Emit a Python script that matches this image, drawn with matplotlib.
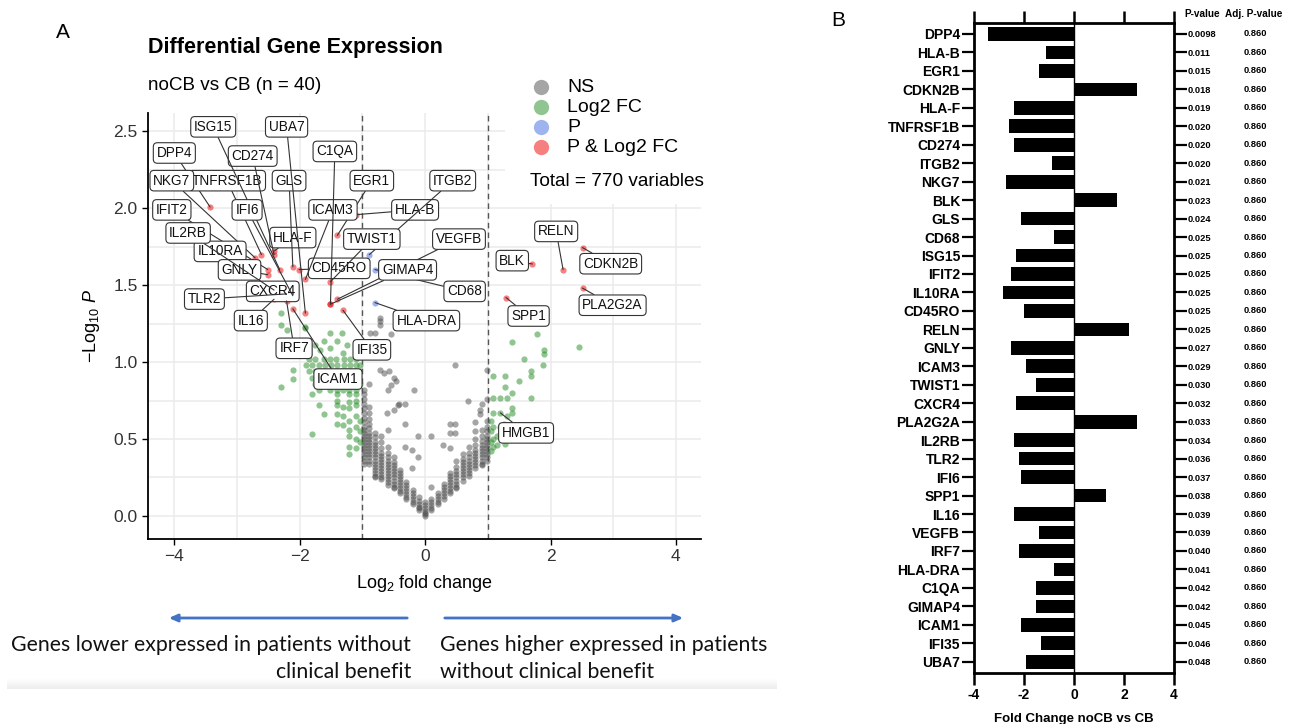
import numpy as np
import matplotlib.pyplot as plt
from matplotlib.patches import Rectangle

plt.rcParams.update({
    "font.family": ["Liberation Sans", "DejaVu Sans"],
    "mathtext.fontset": "custom",
    "mathtext.rm": "Liberation Sans",
    "mathtext.it": "Liberation Sans:italic",
})

# ---- data: genes with p < 0.05 (panel B, also labelled in panel A) ----
genes = ["DPP4", "HLA-B", "EGR1", "CDKN2B", "HLA-F", "TNFRSF1B", "CD274", "ITGB2",
         "NKG7", "BLK", "GLS", "CD68", "ISG15", "IFIT2", "IL10RA", "CD45RO", "RELN",
         "GNLY", "ICAM3", "TWIST1", "CXCR4", "PLA2G2A", "IL2RB", "TLR2", "IFI6", "SPP1",
         "IL16", "VEGFB", "IRF7", "HLA-DRA", "C1QA", "GIMAP4", "ICAM1", "IFI35", "UBA7"]
fold_change = [-3.43, -1.11, -1.40, 2.51, -2.41, -2.61, -2.41, -0.89,
               -2.71, 1.71, -2.11, -0.80, -2.32, -2.51, -2.83, -2.01, 2.20,
               -2.51, -1.91, -1.51, -2.31, 2.51, -2.41, -2.21, -2.11, 1.29,
               -2.41, -1.40, -2.21, -0.80, -1.51, -1.51, -2.11, -1.31, -1.91]
p_value = ["0.0098", "0.011", "0.015", "0.018", "0.019", "0.020", "0.020", "0.020",
           "0.021", "0.023", "0.024", "0.025", "0.025", "0.025", "0.025", "0.025", "0.025",
           "0.027", "0.029", "0.030", "0.032", "0.033", "0.034", "0.036", "0.037", "0.038",
           "0.039", "0.039", "0.040", "0.041", "0.042", "0.042", "0.045", "0.046", "0.048"]
adj_p_value = ["0.860"] * len(genes)

# extra labelled, non significant gene
hmgb1_fc, hmgb1_logp = 1.20, 0.67

# non significant genes (grey), read column by column from the V shape
ns_col_x = [-0.98, -0.90, -0.80, -0.70, -0.60, -0.50, -0.40, -0.30, -0.20, -0.10, 0.00,
            0.10, 0.20, 0.30, 0.40, 0.50, 0.60, 0.70, 0.80, 0.90, 0.98]
ns_col_y = [
    [0.82, 0.79, 0.76, 0.73, 0.70, 0.67, 0.64, 0.61, 0.58, 0.56, 0.54, 0.52, 0.50, 0.48, 0.46, 0.44, 0.42, 0.40, 0.38, 0.36, 0.34],
    [0.86, 0.71, 0.67, 0.63, 0.60, 0.57, 0.54, 0.52, 0.50, 0.48, 0.46, 0.44, 0.42, 0.40, 0.38, 0.36, 0.34],
    [0.54, 0.51, 0.48, 0.46, 0.44, 0.42, 0.40, 0.38, 0.36, 0.34, 0.32, 0.30, 0.28, 0.26, 0.25],
    [0.52, 0.48, 0.44, 0.41, 0.39, 0.37, 0.35, 0.33, 0.31, 0.29, 0.27, 0.25, 0.24],
    [0.56, 0.45, 0.41, 0.38, 0.36, 0.34, 0.32, 0.30, 0.28, 0.26, 0.24, 0.22, 0.20],
    [0.38, 0.35, 0.33, 0.31, 0.29, 0.27, 0.25, 0.23, 0.21, 0.19, 0.18],
    [0.30, 0.28, 0.26, 0.24, 0.22, 0.20, 0.18, 0.16, 0.15],
    [0.22, 0.20, 0.18, 0.16, 0.14, 0.12, 0.11],
    [0.17, 0.15, 0.13, 0.11, 0.09, 0.08],
    [0.12, 0.10, 0.08, 0.06, 0.05, 0.04],
    [0.09, 0.07, 0.05, 0.03, 0.02, 0.01, 0.00],
    [0.11, 0.09, 0.07, 0.05, 0.04],
    [0.15, 0.13, 0.11, 0.09, 0.08],
    [0.21, 0.19, 0.17, 0.15, 0.13, 0.11],
    [0.28, 0.26, 0.24, 0.22, 0.20, 0.18, 0.16, 0.15],
    [0.36, 0.32, 0.29, 0.27, 0.25, 0.23, 0.21, 0.19, 0.18],
    [0.40, 0.37, 0.35, 0.33, 0.31, 0.29, 0.27, 0.25, 0.23],
    [0.45, 0.41, 0.38, 0.36, 0.34, 0.32, 0.30, 0.28, 0.26],
    [0.55, 0.50, 0.46, 0.43, 0.41, 0.39, 0.37, 0.35, 0.33, 0.31],
    [0.56, 0.52, 0.49, 0.46, 0.44, 0.42, 0.40, 0.38, 0.36, 0.34, 0.33],
    [0.95, 0.76, 0.62, 0.58, 0.55, 0.52, 0.50, 0.48, 0.46, 0.44, 0.42, 0.40, 0.38, 0.36],
]
# scattered grey points above the V
ns_extra_x = [-0.72, -0.72, -0.72, -0.88, -0.80, -0.55, -0.72, -0.65, -0.58, -0.50, -0.46,
              -0.60, -0.55, -0.18, -0.44, -0.42, -0.32, -0.61, -0.50, -0.32, -0.12, 0.10,
              -0.32, -0.21, -0.12, -0.21, 0.10, 0.29, 0.40, 0.39, 0.48, 0.40, 0.48, 0.79,
              0.88, 0.88, 0.69, 0.90, 0.48]
ns_extra_y = [1.29, 1.27, 1.24, 1.19, 1.19, 1.18, 0.95, 0.93, 0.94, 0.90, 0.88,
              0.82, 0.85, 0.82, 0.72, 0.73, 0.73, 0.67, 0.69, 0.60, 0.52, 0.52,
              0.45, 0.43, 0.38, 0.31, 0.19, 0.46, 0.44, 0.60, 0.60, 0.54, 0.54, 0.61,
              0.69, 0.66, 0.75, 0.73, 0.98]

# |log2 FC| > 1 but p > 0.05 (green)
fc_only_points = [
    (-2.30, 1.32), (-2.30, 1.24), (-2.21, 1.21), (-1.91, 1.23), (-1.92, 1.22), (-1.52, 1.19),
    (-1.33, 1.19), (-1.62, 1.14), (-1.41, 1.14), (-1.75, 1.11), (-1.52, 1.09), (-1.24, 1.11),
    (-1.67, 1.08), (-1.31, 1.06), (-1.92, 1.06), (-2.10, 0.95), (-2.10, 0.89), (-2.30, 0.84),
    (-1.85, 1.02), (-1.75, 1.02), (-1.62, 1.02), (-1.52, 1.02), (-1.42, 1.02), (-1.30, 1.02),
    (-1.20, 1.02), (-1.10, 1.02),
    (-1.90, 0.98), (-1.80, 0.98), (-1.70, 0.98), (-1.60, 0.98), (-1.50, 0.98), (-1.40, 0.98),
    (-1.30, 0.98), (-1.20, 0.98), (-1.10, 0.98), (-1.04, 0.98),
    (-1.85, 0.94), (-1.75, 0.94), (-1.62, 0.94), (-1.52, 0.94), (-1.42, 0.94), (-1.33, 0.94),
    (-1.24, 0.94), (-1.12, 0.94), (-1.05, 0.94),
    (-1.80, 0.90), (-1.70, 0.90), (-1.60, 0.90), (-1.50, 0.90), (-1.40, 0.90), (-1.30, 0.90),
    (-1.20, 0.90), (-1.10, 0.90),
    (-1.75, 0.86), (-1.62, 0.86), (-1.52, 0.86), (-1.42, 0.86), (-1.31, 0.86), (-1.21, 0.86),
    (-1.10, 0.86), (-1.04, 0.86),
    (-1.70, 0.82), (-1.52, 0.82), (-1.41, 0.82), (-1.31, 0.82), (-1.21, 0.82), (-1.10, 0.82),
    (-1.81, 0.79), (-1.41, 0.79), (-1.21, 0.79), (-1.10, 0.79),
    (-1.70, 0.72), (-1.61, 0.66), (-1.81, 0.53), (-1.41, 0.75), (-1.41, 0.72), (-1.41, 0.66),
    (-1.41, 0.60), (-1.31, 0.71), (-1.31, 0.65), (-1.31, 0.59), (-1.21, 0.74), (-1.21, 0.70),
    (-1.21, 0.62), (-1.21, 0.56), (-1.21, 0.52), (-1.21, 0.45), (-1.21, 0.40), (-1.10, 0.75),
    (-1.10, 0.72), (-1.10, 0.65), (-1.10, 0.58), (-1.10, 0.50), (-1.10, 0.44), (-1.04, 0.62),
    (-1.04, 0.55), (-1.04, 0.48),
    (1.78, 1.18), (1.38, 1.13), (1.89, 1.08), (1.89, 1.05), (1.57, 1.02), (1.88, 0.98),
    (1.69, 0.94), (1.69, 0.91), (1.09, 0.91), (1.28, 0.91), (1.28, 0.84), (1.49, 0.88),
    (1.38, 0.80), (1.09, 0.77), (1.19, 0.77), (1.30, 0.77), (1.69, 0.77), (1.38, 0.70),
    (1.09, 0.67), (1.30, 0.65), (1.38, 0.67), (1.09, 0.58), (1.20, 0.58),
    (1.09, 0.50), (1.28, 0.51), (1.28, 0.47), (1.09, 0.45), (2.45, 1.10), (1.05, 0.62),
    (1.05, 0.55), (1.05, 0.48), (1.05, 0.42), (1.15, 0.52), (1.15, 0.46), (1.25, 0.60),
]

# label box centres (data units of panel A)
label_xy = {
    "ISG15": (-3.38, 2.53), "UBA7": (-2.21, 2.53), "DPP4": (-4.00, 2.36), "CD274": (-2.75, 2.34),
    "C1QA": (-1.44, 2.37), "NKG7": (-4.04, 2.18), "TNFRSF1B": (-3.16, 2.18), "GLS": (-2.17, 2.18),
    "EGR1": (-0.85, 2.18), "ITGB2": (0.44, 2.18), "IFIT2": (-4.04, 1.99), "IFI6": (-2.84, 1.99),
    "ICAM3": (-1.47, 1.99), "HLA-B": (-0.16, 1.99), "IL2RB": (-3.78, 1.84), "HLA-F": (-2.11, 1.81),
    "TWIST1": (-0.85, 1.80), "VEGFB": (0.54, 1.80), "IL10RA": (-3.27, 1.72), "CD45RO": (-1.37, 1.61),
    "GIMAP4": (-0.28, 1.60), "GNLY": (-2.96, 1.60), "CXCR4": (-2.43, 1.46), "CD68": (0.63, 1.46),
    "TLR2": (-3.52, 1.41), "IL16": (-2.78, 1.27), "HLA-DRA": (0.02, 1.27), "IRF7": (-2.09, 1.09),
    "IFI35": (-0.85, 1.08), "ICAM1": (-1.39, 0.89), "RELN": (2.09, 1.85), "BLK": (1.39, 1.66),
    "CDKN2B": (2.96, 1.64), "SPP1": (1.65, 1.30), "PLA2G2A": (2.99, 1.37), "HMGB1": (1.61, 0.54),
}

col_ns, col_fc, col_p, col_both = "#4d4d4d", "#228B22", "#4169E1", "#EE0000"

W, H = 1289, 724
fig = plt.figure(figsize=(W / 100, H / 100), dpi=100)


def px_box(l, t, r, b):
    return [l / W, 1 - b / H, (r - l) / W, (b - t) / H]


# ================= panel A : volcano =================
ax = fig.add_axes(px_box(148, 113, 701, 539))
ax.set_xlim(-4.42, 4.40)
ax.set_ylim(-0.15, 2.62)
ax.set_xticks([-4, -2, 0, 2, 4])
ax.set_xticks([-3, -1, 1, 3], minor=True)
ax.set_yticks([0, 0.5, 1.0, 1.5, 2.0, 2.5])
ax.set_yticks([0.25, 0.75, 1.25, 1.75, 2.25], minor=True)
ax.yaxis.set_major_formatter(plt.FormatStrFormatter("%.1f"))
ax.grid(True, which="both", color="#ebebeb", lw=1.1)
ax.set_axisbelow(True)
ax.tick_params(which="minor", length=0)
ax.tick_params(which="major", length=4, width=1, labelsize=12.5, labelcolor="#333333")
for s in ["top", "right"]:
    ax.spines[s].set_visible(False)
for s in ["left", "bottom"]:
    ax.spines[s].set_linewidth(1.3)

# white area behind the legend
ax.add_patch(Rectangle((0.6456, 0.787), 0.36, 0.22, transform=ax.transAxes,
                       fc="white", ec="none", zorder=0.8))

ax.axvline(-1, color="#555555", ls=(0, (4, 3)), lw=1)
ax.axvline(1, color="#555555", ls=(0, (4, 3)), lw=1)

ns_x = [x for x, ys in zip(ns_col_x, ns_col_y) for _ in ys] + ns_extra_x
ns_y = [y for ys in ns_col_y for y in ys] + ns_extra_y
ax.scatter(ns_x, ns_y, s=20, color=col_ns, alpha=0.5, lw=0, zorder=2)

fc_pts = np.array(fc_only_points + [(hmgb1_fc, hmgb1_logp)])
ax.scatter(fc_pts[:, 0], fc_pts[:, 1], s=20, color=col_fc, alpha=0.5, lw=0, zorder=2)

fc_arr = np.array(fold_change)
logp = -np.log10(np.array([float(p) for p in p_value]))
big = np.abs(fc_arr) > 1
ax.scatter(fc_arr[~big], logp[~big], s=20, color=col_p, alpha=0.5, lw=0, zorder=3)
ax.scatter(fc_arr[big], logp[big], s=20, color=col_both, alpha=0.5, lw=0, zorder=3)

label_pts = list(zip(genes, fc_arr, logp)) + [("HMGB1", hmgb1_fc, hmgb1_logp)]
for g, x, y in label_pts:
    ax.annotate(g, xy=(x, y), xytext=label_xy[g], textcoords="data",
                ha="center", va="center", fontsize=9.8, color="#111111", zorder=5,
                bbox=dict(boxstyle="round,pad=0.24,rounding_size=0.3", fc="white",
                          ec="#333333", lw=0.8),
                arrowprops=dict(arrowstyle="-", color="#333333", lw=0.8,
                                shrinkA=0, shrinkB=0),
                annotation_clip=False)

ax.set_xlabel("Log$_2$ fold change", fontsize=13, labelpad=6)
ax.set_ylabel(r"$-$Log$_{10}$ $\it{P}$", fontsize=13, labelpad=8)

fig.text(148 / W, 1 - 47 / H, "Differential Gene Expression", fontsize=15.5,
         weight="bold", va="center", ha="left")
fig.text(148 / W, 1 - 85 / H, "noCB vs CB (n = 40)", fontsize=13.6, va="center", ha="left")

# legend drawn by hand
legend_items = [("NS", col_ns), ("Log2 FC", col_fc), ("P", col_p), ("P & Log2 FC", col_both)]
for i, (name, c) in enumerate(legend_items):
    yy = 1 - (87 + 20 * i) / H
    fig.add_artist(plt.Line2D([541 / W], [yy], marker="o", ms=11, color=c, alpha=0.5,
                              mec="none", transform=fig.transFigure))
    fig.text(567 / W, yy, name, fontsize=14, va="center", ha="left")
fig.text(530 / W, 1 - 181 / H, "Total = 770 variables", fontsize=13.7, va="center", ha="left")

fig.text(63 / W, 1 - 33 / H, "A", fontsize=15, va="center", ha="center")
fig.text(838 / W, 1 - 20 / H, "B", fontsize=15, va="center", ha="center")

# direction arrows and captions
arrow_style = dict(arrowstyle="-|>,head_length=0.5,head_width=0.22", color="#4472C4", lw=2)
fig.add_artist(plt.Annotation("", xy=(166 / W, 1 - 618 / H), xytext=(410 / W, 1 - 618 / H),
                              xycoords="figure fraction", arrowprops=arrow_style))
fig.add_artist(plt.Annotation("", xy=(686 / W, 1 - 618 / H), xytext=(442 / W, 1 - 618 / H),
                              xycoords="figure fraction", arrowprops=arrow_style))
cap = dict(fontsize=15.3, family=["Lato", "DejaVu Sans"], va="center", color="#111111")
fig.text(411 / W, 1 - 645 / H, "Genes lower expressed in patients without", ha="right", **cap)
fig.text(411 / W, 1 - 672 / H, "clinical benefit", ha="right", **cap)
fig.text(440 / W, 1 - 645 / H, "Genes higher expressed in patients", ha="left", **cap)
fig.text(440 / W, 1 - 672 / H, "without clinical benefit", ha="left", **cap)

# faint grey band under panel A (screenshot edge)
band = fig.add_axes(px_box(7, 678, 776, 689))
band.imshow(np.linspace(1.0, 0.93, 20).reshape(-1, 1), cmap="gray", vmin=0, vmax=1,
            aspect="auto")
band.axis("off")

# ================= panel B : fold change bars =================
n = len(genes)
axb = fig.add_axes(px_box(974, 22.7, 1174, 673))
axb.barh(range(n), fold_change, height=0.74, color="black")
axb.axvline(0, color="black", lw=1)
axb.set_xlim(-4, 4)
axb.set_ylim(n - 0.39, -0.61)
axb.set_xticks([-4, -2, 0, 2, 4])
axb.set_xticklabels(["-4", "-2", "0", "2", "4"], weight="bold", fontsize=10)
axb.set_yticks(range(n))
axb.set_yticklabels(genes, weight="bold", fontsize=10)
axb.tick_params(axis="x", top=True, bottom=True, direction="out", length=8.5, width=1.8, pad=2)
axb.tick_params(axis="y", left=True, direction="out", length=9, width=1.6, pad=1)
for s in axb.spines.values():
    s.set_linewidth(2)
axb.set_xlabel("Fold Change noCB vs CB", weight="bold", fontsize=9.5, labelpad=8)

# p-values on the right side
ax2 = axb.twinx()
ax2.set_ylim(axb.get_ylim())
ax2.set_yticks(range(n))
ax2.set_yticklabels(p_value, weight="bold", fontsize=6.7)
ax2.tick_params(axis="y", direction="out", length=9, width=1.6, pad=0.5)
for s in ax2.spines.values():
    s.set_visible(False)
for i, v in enumerate(adj_p_value):
    ax2.annotate(v, xy=(1255 / W, i), xycoords=("figure fraction", "data"),
                 ha="center", va="center", fontsize=6.7, weight="bold", annotation_clip=False)

fig.text(1202 / W, 1 - 14 / H, "P-value", fontsize=7.2, weight="bold", ha="center", va="center")
fig.text(1254 / W, 1 - 14 / H, "Adj. P-value", fontsize=7.2, weight="bold", ha="center", va="center")

fig.savefig("out.png", dpi=100)
